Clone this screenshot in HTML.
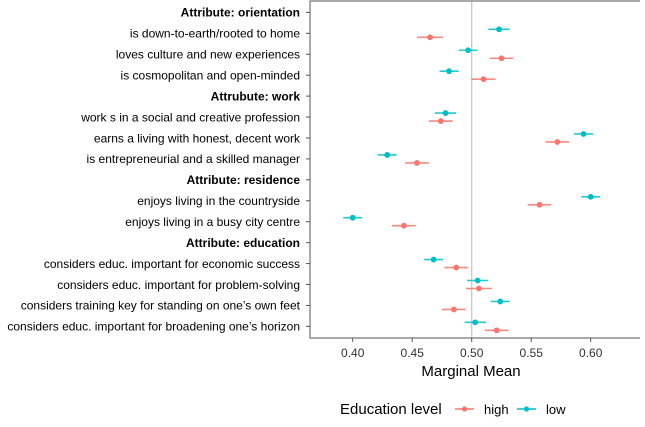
<!DOCTYPE html>
<html><head><meta charset="utf-8"><style>
body{margin:0;background:#fff;}
svg text{font-family:"Liberation Sans",sans-serif;}
</style></head><body>
<svg id="chart" width="645" height="422" viewBox="0 0 645 422" xmlns="http://www.w3.org/2000/svg">
<g id="grid"></g><g id="labels"></g><g id="marks"></g>
<text x="471" y="376" font-size="15" text-anchor="middle" fill="#000">Marginal Mean</text>
<g>
<text x="340" y="414" font-size="15" fill="#000">Education level</text>
<g><line x1="455" y1="409" x2="474" y2="409" stroke="#F8766D" stroke-width="1.5"/><circle cx="464.5" cy="409" r="2.6" fill="#F8766D"/><text x="484" y="414" font-size="13" fill="#000">high</text></g>
<g><line x1="517" y1="409" x2="536" y2="409" stroke="#00BFC4" stroke-width="1.5"/><circle cx="526.5" cy="409" r="2.6" fill="#00BFC4"/><text x="546" y="414" font-size="13" fill="#000">low</text></g>
</g>
</svg>
<script>
const rowLabels=["Attribute: orientation","is down-to-earth/rooted to home","loves culture and new experiences","is cosmopolitan and open-minded","Attrubute: work","work s in a social and creative profession","earns a living with honest, decent work","is entrepreneurial and a skilled manager","Attribute: residence","enjoys living in the countryside","enjoys living in a busy city centre","Attribute: education","considers educ. important for economic success","considers educ. important for problem-solving","considers training key for standing on one\u2019s own feet","considers educ. important for broadening one\u2019s horizon"];
const headerRows=[0,4,8,11];
const highVals=[null,0.465,0.525,0.510,null,0.474,0.572,0.454,null,0.557,0.443,null,0.487,0.506,0.485,0.521];
const highErr=[null,0.011,0.010,0.010,null,0.010,0.010,0.010,null,0.010,0.010,null,0.010,0.011,0.010,0.010];
const lowVals=[null,0.523,0.497,0.481,null,0.478,0.594,0.429,null,0.600,0.400,null,0.468,0.505,0.524,0.503];
const lowErr=[null,0.009,0.008,0.008,null,0.009,0.008,0.008,null,0.008,0.008,null,0.008,0.009,0.008,0.009];
const xTicks=[0.40,0.45,0.50,0.55,0.60];
const NS="http://www.w3.org/2000/svg";
const L=310,R=640,T=1,B=338;
const x=v=>352.7+(v-0.4)*1190;
const y=i=>12.4+i*20.93;
function mk(tag,attrs,parent){const e=document.createElementNS(NS,tag);for(const k in attrs)e.setAttribute(k,attrs[k]);parent.appendChild(e);return e;}
const grid=document.getElementById('grid'),labs=document.getElementById('labels'),marks=document.getElementById('marks');
let e;
e=mk('line',{x1:x(0.5),x2:x(0.5),y1:T,y2:B,stroke:'#c8c8c8','stroke-width':1.3},grid);


e=mk('path',{d:`M${R},${T}H${L}V${B}H${R}`,fill:'none',stroke:'#555','stroke-width':1},grid);


xTicks.forEach(t=>{
 mk('line',{x1:x(t),x2:x(t),y1:B,y2:B+4,stroke:'#555'},grid);
 e=mk('text',{x:x(t),y:B+19,'font-size':12,'text-anchor':'middle',fill:'#333'},labs);
 e.textContent=t.toFixed(2);
 
 
});
rowLabels.forEach((s,i)=>{
 mk('line',{x1:L-4,x2:L,y1:y(i),y2:y(i),stroke:'#555'},grid);
 const hdr=headerRows.includes(i);
 e=mk('text',{x:300,y:y(i)+4.3,'font-size':12,'text-anchor':'end',fill:'#000','font-weight':hdr?'bold':'normal'},labs);
 e.textContent=s;
 
 
});
function series(vals,errs,col,off,name){
 vals.forEach((v,i)=>{
  if(v==null)return;
  const yy=y(i)+off;
  e=mk('line',{x1:x(v-errs[i]),x2:x(v+errs[i]),y1:yy,y2:yy,stroke:col,'stroke-width':1.6,'stroke-opacity':0.85},marks);
  
  
  e=mk('circle',{cx:x(v),cy:yy,r:2.9,fill:col},marks);
  
  
 });
}
series(highVals,highErr,'#F8766D',4,'high');
series(lowVals,lowErr,'#00BFC4',-4,'low');
</script>
</body></html>
